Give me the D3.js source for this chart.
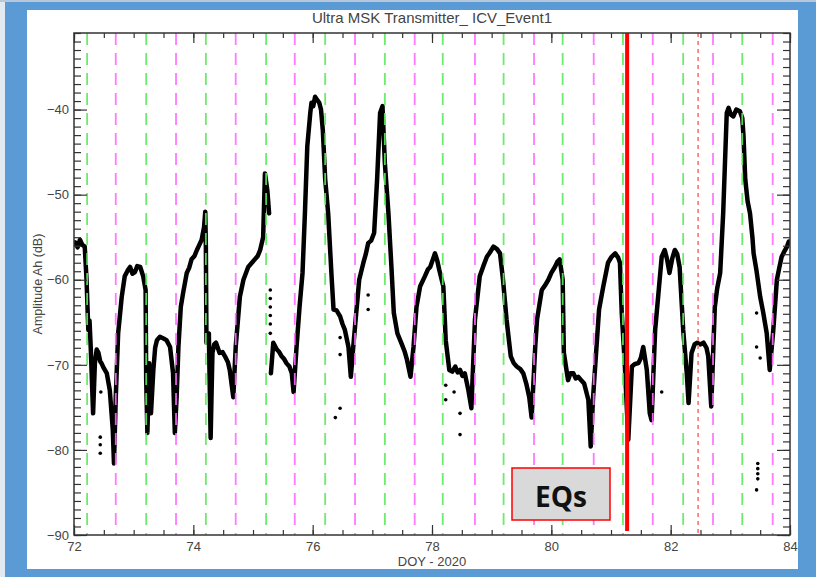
<!DOCTYPE html>
<html><head><meta charset="utf-8">
<script src="https://cdn.jsdelivr.net/npm/d3@7/dist/d3.min.js"></script>
<style>html,body{margin:0;padding:0;background:#fff}svg{display:block}</style>
</head><body>
<script>
// ---------------- data ----------------
const title = "Ultra MSK Transmitter_ ICV_Event1";
const xLabel = "DOY - 2020";
const yLabel = "Amplitude Ah (dB)";
const xDomain = [72, 84];
const yDomain = [-90, -31];
const xMajorTicks = [72, 74, 76, 78, 80, 82, 84];
const yMajorTicks = [-90, -80, -70, -60, -50, -40];
const sunriseDoy = [72.22, 73.21, 74.21, 75.22, 76.21, 77.21, 78.18, 79.20, 80.19, 81.20, 82.21, 83.20];
const sunsetDoy  = [72.70, 73.71, 74.71, 75.70, 76.71, 77.71, 78.72, 79.71, 80.71, 81.70, 82.71, 83.71];
const eqDoy = 81.27;
const eq2Doy = 82.46;
const eqLabel = "EQs";
// trace [DOY, amplitude dB]; null = data gap
const trace = [
 [72.00,-55.8],[72.02,-55.6],[72.06,-56.2],[72.10,-55.3],[72.14,-55.9],[72.18,-56.1],[72.21,-60.0],[72.24,-65.9],[72.26,-64.8],[72.28,-67.9],
 [72.29,-69.8],[72.32,-75.7],[72.35,-69.8],[72.38,-68.2],[72.41,-68.6],[72.44,-69.6],[72.46,-69.8],[72.50,-70.4],[72.55,-71.0],[72.60,-73.0],
 [72.65,-77.6],[72.67,-81.6],[72.70,-73.8],[72.74,-66.3],[72.80,-62.0],[72.85,-59.6],[72.90,-58.9],[72.94,-58.5],[72.98,-59.3],[73.02,-59.1],
 [73.06,-58.4],[73.11,-58.5],[73.16,-59.6],[73.20,-61.2],[73.21,-71.8],[73.23,-78.0],[73.26,-69.8],[73.29,-75.7],[73.33,-70.6],[73.36,-68.0],
 [73.39,-67.1],[73.44,-66.7],[73.50,-66.9],[73.55,-67.1],[73.61,-67.9],[73.66,-71.0],[73.69,-78.0],[73.72,-73.8],[73.75,-67.9],[73.79,-63.2],
 [73.83,-61.5],[73.89,-59.2],[73.93,-58.6],[73.97,-57.6],[74.02,-57.2],[74.06,-56.5],[74.10,-55.9],[74.14,-55.3],[74.18,-53.8],[74.20,-52.0],
 [74.21,-56.1],[74.22,-67.4],[74.26,-66.3],[74.29,-78.6],[74.32,-68.6],[74.35,-67.6],[74.38,-67.4],[74.44,-68.6],[74.49,-68.5],[74.53,-69.0],
 [74.58,-69.7],[74.61,-70.6],[74.67,-73.8],[74.71,-67.9],[74.78,-62.0],[74.84,-60.0],[74.92,-58.5],[74.97,-58.1],[75.03,-57.6],[75.08,-57.2],
 [75.12,-56.5],[75.17,-55.0],[75.20,-47.5],[75.24,-49.5],[75.27,-52.2],null,
 [75.30,-71.0],[75.34,-67.4],[75.40,-68.2],[75.44,-68.5],[75.48,-69.0],[75.52,-69.3],[75.56,-69.8],[75.61,-70.2],[75.65,-71.0],[75.68,-73.2],
 [75.73,-67.9],[75.78,-63.2],[75.83,-59.2],[75.87,-52.2],[75.91,-44.3],[75.96,-40.4],[75.98,-39.2],[76.01,-39.6],[76.04,-38.5],[76.08,-38.9],
 [76.11,-39.2],[76.14,-40.0],[76.17,-42.4],[76.21,-48.2],[76.26,-52.2],[76.32,-60.0],[76.35,-63.5],[76.40,-63.6],[76.46,-64.3],[76.50,-65.2],
 [76.54,-65.9],[76.60,-67.9],[76.64,-71.4],[76.68,-67.9],[76.73,-63.9],[76.78,-60.0],[76.85,-58.0],[76.89,-57.0],[76.93,-55.7],[76.98,-55.4],
 [77.03,-54.5],[77.08,-48.2],[77.13,-40.4],[77.17,-39.6],[77.21,-46.3],[77.27,-52.2],[77.32,-58.5],[77.36,-63.9],[77.42,-66.3],[77.49,-67.5],
 [77.54,-68.4],[77.58,-69.4],[77.64,-71.4],[77.69,-67.9],[77.74,-63.2],[77.80,-60.8],[77.88,-59.6],[77.93,-58.8],[77.97,-58.5],[78.02,-57.5],
 [78.05,-56.9],[78.09,-57.8],[78.12,-58.8],[78.19,-60.8],[78.23,-67.1],[78.29,-70.6],[78.34,-70.8],[78.39,-70.2],[78.43,-70.9],[78.47,-70.6],
 [78.51,-71.3],[78.55,-71.0],[78.61,-73.0],[78.66,-75.1],[78.72,-64.7],[78.80,-59.6],[78.86,-58.4],[78.92,-57.3],[78.97,-56.8],[79.03,-56.1],
 [79.09,-56.4],[79.14,-56.9],[79.19,-60.0],[79.25,-64.7],[79.32,-69.0],[79.37,-69.8],[79.42,-70.2],[79.48,-70.5],[79.53,-71.0],[79.58,-72.2],
 [79.63,-73.8],[79.67,-76.2],[79.73,-67.9],[79.76,-64.7],[79.84,-61.2],[79.90,-60.6],[79.95,-60.0],[80.00,-59.2],[80.06,-58.5],[80.10,-57.9],
 [80.14,-57.6],[80.19,-60.0],[80.21,-68.6],[80.28,-71.8],[80.32,-71.0],[80.37,-71.0],[80.41,-71.6],[80.45,-71.4],[80.50,-71.8],[80.55,-72.2],
 [80.62,-74.1],[80.66,-79.6],[80.70,-73.8],[80.75,-68.6],[80.80,-63.5],[80.87,-60.8],[80.95,-58.0],[81.01,-57.3],[81.07,-56.9],[81.12,-57.4],
 [81.15,-58.0],[81.18,-63.9],[81.23,-69.8],[81.29,-78.8],[81.35,-70.2],[81.40,-69.9],[81.46,-69.8],[81.50,-69.2],[81.54,-67.9],[81.60,-70.6],
 [81.65,-75.7],[81.68,-76.5],[81.74,-65.9],[81.79,-62.0],[81.85,-57.3],[81.90,-56.5],[81.94,-57.6],[81.98,-59.2],[82.03,-57.4],[82.07,-56.5],
 [82.11,-57.0],[82.15,-58.5],[82.21,-65.9],[82.27,-71.0],[82.30,-74.5],[82.35,-68.6],[82.40,-67.6],[82.44,-67.4],[82.50,-67.6],[82.55,-67.4],
 [82.60,-68.0],[82.63,-69.0],[82.68,-74.9],[82.74,-63.2],[82.78,-61.0],[82.83,-59.2],[82.88,-52.2],[82.94,-40.4],[82.97,-39.8],[83.01,-40.6],
 [83.05,-40.8],[83.10,-40.0],[83.16,-40.2],[83.20,-41.0],[83.22,-43.0],[83.25,-48.2],[83.29,-50.8],[83.33,-52.2],[83.37,-55.0],[83.39,-56.9],
 [83.44,-59.0],[83.50,-62.0],[83.55,-63.8],[83.61,-66.3],[83.66,-70.6],[83.72,-65.9],[83.78,-60.0],[83.82,-58.6],[83.86,-57.3],[83.91,-56.6],
 [83.95,-56.1],[83.98,-55.5]
];
// isolated scattered samples [DOY, dB]
const scatter = [
 [72.45,-73.2],[72.44,-78.5],[72.44,-79.4],[72.44,-80.4],
 [75.29,-61.2],[75.29,-62.2],[75.29,-63.2],[75.29,-64.2],[75.29,-65.2],[75.29,-66.3],
 [76.46,-66.8],[76.46,-68.8],[76.46,-75.1],[76.38,-76.2],
 [76.93,-61.8],[76.93,-63.5],
 [78.23,-72.4],[78.23,-74.1],[78.37,-73.2],[78.47,-75.7],[78.47,-78.2],
 [81.85,-73.2],
 [83.44,-63.9],[83.44,-67.9],[83.50,-69.2],
 [83.46,-81.6],[83.46,-82.2],[83.46,-82.8],[83.46,-83.4],[83.44,-84.7]
];

// ---------------- drawing ----------------
const W = 816, H = 577;
const M = {left: 74, right: 790, top: 33, bottom: 535};
const svg = d3.select("body").append("svg").attr("width", W).attr("height", H);

// slide frame
svg.append("rect").attr("width", W).attr("height", H).attr("fill", "#5b9bd5");
svg.append("rect").attr("x", 0).attr("y", 0).attr("width", 5).attr("height", H).attr("fill", "#e3e9f1");
svg.append("rect").attr("x", 0).attr("y", 0).attr("width", W).attr("height", 2).attr("fill", "#b7c8dc");
svg.append("rect").attr("x", 27).attr("y", 10).attr("width", 771).attr("height", 559).attr("fill", "#ffffff");

const x = d3.scaleLinear().domain(xDomain).range([M.left, M.right]);
const y = d3.scaleLinear().domain(yDomain).range([M.bottom, M.top]);

const plot = svg.append("g");
svg.append("clipPath").attr("id", "clip").append("rect")
  .attr("x", M.left).attr("y", M.top).attr("width", M.right - M.left).attr("height", M.bottom - M.top);

// trace
const line = d3.line().defined(d => d !== null).x(d => x(d[0])).y(d => y(d[1]));
plot.append("path").datum(trace).attr("d", line)
  .attr("fill", "none").attr("stroke", "#000").attr("stroke-width", 4.5)
  .attr("stroke-linejoin", "round").attr("stroke-linecap", "round")
  .attr("clip-path", "url(#clip)");
plot.selectAll("circle.sc").data(scatter).join("circle").attr("class", "sc")
  .attr("cx", d => x(d[0])).attr("cy", d => y(d[1])).attr("r", 1.8).attr("fill", "#000");

// sunrise / sunset lines
plot.selectAll("line.sr").data(sunriseDoy).join("line").attr("class", "sr")
  .attr("x1", d => x(d)).attr("x2", d => x(d)).attr("y1", M.top).attr("y2", M.bottom)
  .attr("stroke", "#5fe85f").attr("stroke-width", 1.8).attr("stroke-dasharray", "12,8").attr("opacity", 0.9);
plot.selectAll("line.ss").data(sunsetDoy).join("line").attr("class", "ss")
  .attr("x1", d => x(d)).attr("x2", d => x(d)).attr("y1", M.top).attr("y2", M.bottom)
  .attr("stroke", "#ff6cff").attr("stroke-width", 1.8).attr("stroke-dasharray", "12,8").attr("opacity", 0.9);
plot.append("line").attr("x1", x(eq2Doy)).attr("x2", x(eq2Doy)).attr("y1", M.top).attr("y2", M.bottom)
  .attr("stroke", "#ff7f7f").attr("stroke-width", 1.8).attr("stroke-dasharray", "4,4");
plot.append("line").attr("x1", x(eqDoy)).attr("x2", x(eqDoy)).attr("y1", M.top).attr("y2", M.bottom - 4)
  .attr("stroke", "#ff0000").attr("stroke-width", 4);

// axes
const font = "Liberation Sans, Arial, sans-serif";
const xMinor = d3.range(xDomain[0], xDomain[1] + 0.001, 0.5);
const yMinor = d3.range(yDomain[0], yDomain[1] + 0.001, 1);
function styleAxis(g) {
  g.select(".domain").remove();
  g.selectAll("line").attr("stroke", "#333").attr("stroke-width", 1.2);
  g.selectAll("text").attr("font-family", font).attr("font-size", 13).attr("fill", "#444");
}
svg.append("g").attr("transform", `translate(0,${M.bottom})`)
  .call(d3.axisBottom(x).tickValues(xMinor).tickSize(-5).tickFormat("")).call(styleAxis);
svg.append("g").attr("transform", `translate(0,${M.bottom})`)
  .call(d3.axisBottom(x).tickValues(xMajorTicks).tickSize(-10).tickPadding(7).tickFormat(d3.format("d"))).call(styleAxis);
svg.append("g").attr("transform", `translate(0,${M.top})`)
  .call(d3.axisTop(x).tickValues(xMinor).tickSize(-5).tickFormat("")).call(styleAxis);
svg.append("g").attr("transform", `translate(0,${M.top})`)
  .call(d3.axisTop(x).tickValues(xMajorTicks).tickSize(-10).tickFormat("")).call(styleAxis);
svg.append("g").attr("transform", `translate(${M.left},0)`)
  .call(d3.axisLeft(y).tickValues(yMinor).tickSize(-7).tickFormat("")).call(styleAxis);
svg.append("g").attr("transform", `translate(${M.left},0)`)
  .call(d3.axisLeft(y).tickValues(yMajorTicks).tickSize(-13).tickPadding(5).tickFormat(d3.format("d"))).call(styleAxis);
svg.append("g").attr("transform", `translate(${M.right},0)`)
  .call(d3.axisRight(y).tickValues(yMinor).tickSize(-7).tickFormat("")).call(styleAxis);
svg.append("g").attr("transform", `translate(${M.right},0)`)
  .call(d3.axisRight(y).tickValues(yMajorTicks).tickSize(-13).tickFormat("")).call(styleAxis);

svg.append("rect").attr("x", M.left).attr("y", M.top).attr("width", M.right - M.left).attr("height", M.bottom - M.top)
  .attr("fill", "none").attr("stroke", "#333").attr("stroke-width", 1.5);

// titles
svg.append("text").attr("x", (M.left + M.right) / 2).attr("y", 23).attr("text-anchor", "middle")
  .attr("font-family", font).attr("font-size", 15).attr("fill", "#444").text(title);
svg.append("text").attr("x", (M.left + M.right) / 2).attr("y", 566).attr("text-anchor", "middle")
  .attr("font-family", font).attr("font-size", 13).attr("fill", "#444").text(xLabel);
svg.append("text").attr("transform", `translate(42,${(M.top + M.bottom) / 2}) rotate(-90)`).attr("text-anchor", "middle")
  .attr("font-family", font).attr("font-size", 12.5).attr("fill", "#444").text(yLabel);

// EQs annotation box
const box = svg.append("g");
box.append("rect").attr("x", 512).attr("y", 468).attr("width", 98).attr("height", 52)
  .attr("fill", "#d9d9d9").attr("stroke", "#ff0000").attr("stroke-width", 1.5);
box.append("text").attr("x", 561).attr("y", 507).attr("text-anchor", "middle")
  .attr("font-family", "Open Sans, sans-serif").attr("font-weight", "bold").attr("font-size", 28)
  .attr("fill", "#111").text(eqLabel);
</script>
</body></html>
